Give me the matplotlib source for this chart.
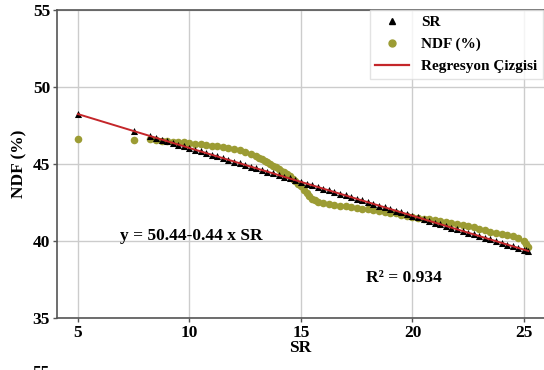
import matplotlib
matplotlib.use("Agg")
import matplotlib.pyplot as plt
from matplotlib.lines import Line2D

# ---- data ----
sr_x = [5.0, 7.5, 8.25, 8.5, 8.75, 9.0, 9.25, 9.5, 9.75, 10.0, 10.25, 10.5, 10.75, 11.0,
        11.25, 11.5, 11.75, 12.0, 12.25, 12.5, 12.75, 13.0, 13.25, 13.5, 13.75, 14.0,
        14.25, 14.5, 14.75, 15.0, 15.25, 15.5, 15.75, 16.0, 16.25, 16.5, 16.75, 17.0,
        17.25, 17.5, 17.75, 18.0, 18.25, 18.5, 18.75, 19.0, 19.25, 19.5, 19.75, 20.0,
        20.25, 20.5, 20.75, 21.0, 21.25, 21.5, 21.75, 22.0, 22.25, 22.5, 22.75, 23.0,
        23.25, 23.5, 23.75, 24.0, 24.25, 24.5, 24.75, 25.0, 25.1, 25.2]
sr_fit = [48.24, 47.14, 46.81, 46.70, 46.59, 46.48, 46.37, 46.26, 46.15, 46.04, 45.93,
          45.82, 45.71, 45.60, 45.49, 45.38, 45.27, 45.16, 45.05, 44.94, 44.83, 44.72,
          44.61, 44.50, 44.39, 44.28, 44.17, 44.06, 43.95, 43.84, 43.73, 43.62, 43.51,
          43.40, 43.29, 43.18, 43.07, 42.96, 42.85, 42.74, 42.63, 42.52, 42.41, 42.30,
          42.19, 42.08, 41.97, 41.86, 41.75, 41.64, 41.53, 41.42, 41.31, 41.20, 41.09,
          40.98, 40.87, 40.76, 40.65, 40.54, 40.43, 40.32, 40.21, 40.10, 39.99, 39.88,
          39.77, 39.66, 39.55, 39.44, 39.40, 39.35]
ndf_x = [5.0, 7.5, 8.25, 8.5, 8.75, 9.0, 9.25, 9.5, 9.75, 10.0, 10.25, 10.5, 10.75, 11.0,
         11.25, 11.5, 11.75, 12.0, 12.25, 12.5, 12.75, 13.0, 13.125, 13.25, 13.375, 13.5,
         13.625, 13.75, 13.875, 14.0, 14.125, 14.25, 14.375, 14.5, 14.625, 14.75, 14.875,
         15.0, 15.125, 15.25, 15.375, 15.5, 15.625, 15.75, 16.0, 16.25, 16.5, 16.75, 17.0,
         17.25, 17.5, 17.75, 18.0, 18.25, 18.5, 18.75, 19.0, 19.25, 19.5, 19.75, 20.0,
         20.25, 20.5, 20.75, 21.0, 21.25, 21.5, 21.75, 22.0, 22.25, 22.5, 22.75, 23.0,
         23.25, 23.5, 23.75, 24.0, 24.25, 24.5, 24.75, 25.0, 25.1, 25.2]
ndf = [46.6, 46.55, 46.6, 46.55, 46.5, 46.5, 46.45, 46.45, 46.4, 46.35, 46.3, 46.3, 46.25,
       46.2, 46.15, 46.1, 46.05, 46.0, 45.9, 45.8, 45.65, 45.5, 45.4, 45.3, 45.2, 45.1,
       45.0, 44.9, 44.78, 44.65, 44.55, 44.45, 44.33, 44.2, 44.05, 43.9, 43.73, 43.55,
       43.33, 43.1, 42.92, 42.75, 42.64, 42.55, 42.45, 42.4, 42.35, 42.3, 42.25, 42.2,
       42.15, 42.1, 42.05, 42.0, 41.95, 41.9, 41.85, 41.8, 41.7, 41.6, 41.55, 41.5, 41.45,
       41.4, 41.35, 41.3, 41.25, 41.2, 41.1, 41.05, 40.95, 40.9, 40.8, 40.7, 40.6, 40.55,
       40.45, 40.4, 40.3, 40.2, 40.0, 39.8, 39.6]
reg_x = [5.0, 25.2]
reg_y = [48.24, 39.35]
x_ticks = [5, 10, 15, 20, 25]
y_ticks = [35, 40, 45, 50, 55]
eq_text = "y = 50.44-0.44 x SR"
r2_text = "R² = 0.934"

plt.rcParams['font.family'] = ['Liberation Serif', 'DejaVu Serif']
plt.rcParams['font.weight'] = 'bold'

fig = plt.figure(figsize=(5.44, 3.70), dpi=100)
ax = fig.add_axes([57/544, 1-318/370, 1-57/544, (318-10)/370])

ax.grid(True, color='#cccccc', linewidth=1.0, zorder=0)
ax.set_axisbelow(True)

ax.scatter(ndf_x, ndf, s=30, color='#9c9c34', zorder=3, linewidths=0)
ax.scatter(sr_x, sr_fit, marker='^', s=26, color='black', zorder=4, linewidths=0)
ax.plot(reg_x, reg_y, color='#c4262a', linewidth=1.4, zorder=5)

ax.set_xlim(4.06, 25.9)
ax.set_ylim(35, 55)
ax.set_xticks(x_ticks)
ax.set_yticks(y_ticks)
ax.tick_params(labelsize=12.5, length=3, width=1, color='#555555', pad=2)
for lab in ax.get_xticklabels() + ax.get_yticklabels():
    lab.set_fontweight('bold')

for side in ['left', 'bottom', 'top']:
    ax.spines[side].set_color('#555555')
    ax.spines[side].set_linewidth(1.2)
ax.spines['right'].set_visible(False)

ax.set_xlabel('SR', fontsize=12.5, fontweight='bold', labelpad=-1)
ax.set_ylabel('NDF (%)', fontsize=12.5, fontweight='bold', labelpad=4)

ax.text(6.9, 40.35, eq_text, fontsize=12.5, fontweight='bold', va='center', ha='left')
ax.text(17.9, 37.6, r2_text, fontsize=12.5, fontweight='bold', va='center', ha='left')

handles = [
    Line2D([], [], marker='^', linestyle='none', color='black', markersize=5),
    Line2D([], [], marker='o', linestyle='none', color='#9c9c34', markersize=5),
    Line2D([], [], color='#c4262a', linewidth=1.6),
]
leg = fig.legend(handles, ['SR', 'NDF (%)', 'Regresyon Çizgisi'],
                 loc='upper left', bbox_to_anchor=(370/544, 1-10/370),
                 fontsize=11, frameon=True, fancybox=False, borderaxespad=0,
                 handlelength=2.2, handletextpad=0.8, labelspacing=0.55,
                 borderpad=0.35)
leg.get_frame().set_edgecolor('#dddddd')
leg.get_frame().set_linewidth(1.0)
for t in leg.get_texts():
    t.set_fontweight('bold')

fig.text(41/544, 1-365/370, '55', fontsize=12.5, fontweight='bold', ha='center', va='top')

fig.savefig('out.png', dpi=100)
